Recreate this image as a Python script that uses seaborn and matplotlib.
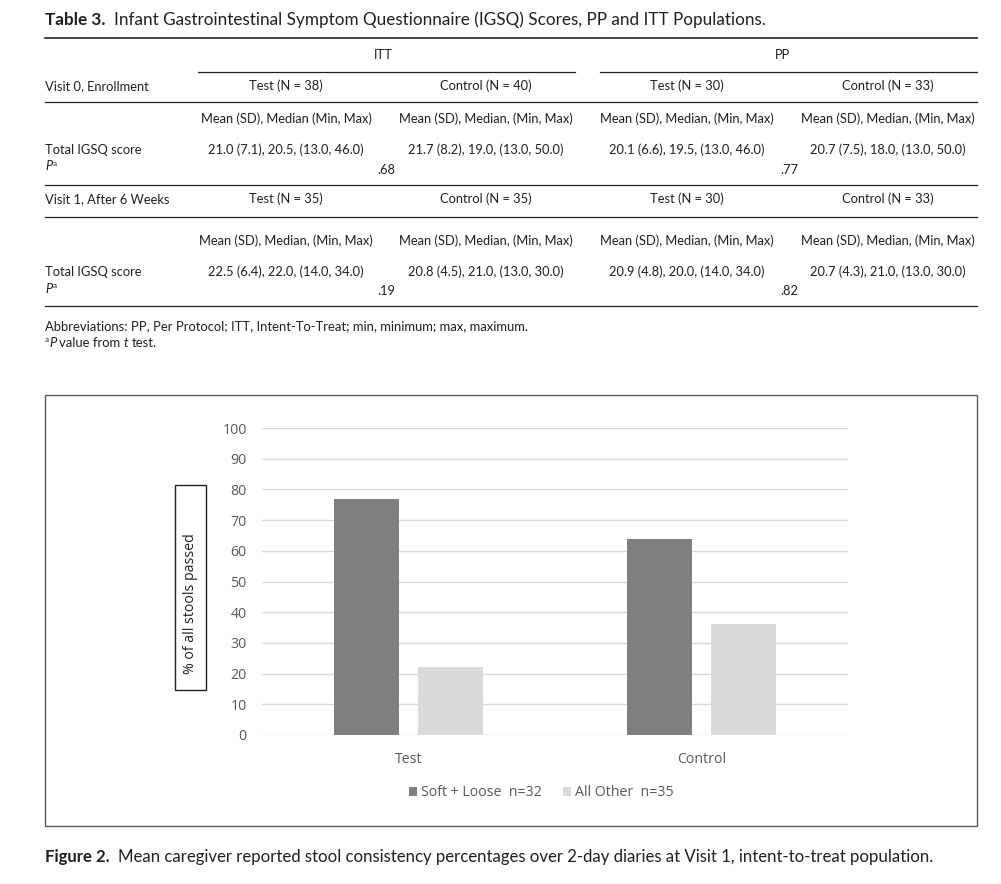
import matplotlib
matplotlib.use('Agg')
import matplotlib.pyplot as plt
import matplotlib.patches as mpatches
import matplotlib.lines as mlines
import seaborn as sns
import pandas as pd

# ---------------------------------------------------------------
# data
# ---------------------------------------------------------------
table_title = 'Infant Gastrointestinal Symptom Questionnaire (IGSQ) Scores, PP and ITT Populations.'
populations = ['ITT', 'PP']

visit0_label = 'Visit 0, Enrollment'
visit0_groups = ['Test (N = 38)', 'Control (N = 40)', 'Test (N = 30)', 'Control (N = 33)']
visit0_stats_hdr = ['Mean (SD), Median (Min, Max)', 'Mean (SD), Median, (Min, Max)',
                    'Mean (SD), Median, (Min, Max)', 'Mean (SD), Median, (Min, Max)']
visit0_scores = ['21.0 (7.1), 20.5, (13.0, 46.0)', '21.7 (8.2), 19.0, (13.0, 50.0)',
                 '20.1 (6.6), 19.5, (13.0, 46.0)', '20.7 (7.5), 18.0, (13.0, 50.0)']
visit0_p = ['.68', '.77']

visit1_label = 'Visit 1, After 6 Weeks'
visit1_groups = ['Test (N = 35)', 'Control (N = 35)', 'Test (N = 30)', 'Control (N = 33)']
visit1_stats_hdr = ['Mean (SD), Median, (Min, Max)'] * 4
visit1_scores = ['22.5 (6.4), 22.0, (14.0, 34.0)', '20.8 (4.5), 21.0, (13.0, 30.0)',
                 '20.9 (4.8), 20.0, (14.0, 34.0)', '20.7 (4.3), 21.0, (13.0, 30.0)']
visit1_p = ['.19', '.82']

abbrev_note = 'Abbreviations: PP, Per Protocol; ITT, Intent-To-Treat; min, minimum; max, maximum.'

groups = ['Test', 'Control']
series_names = ['Soft + Loose  n=32', 'All Other  n=35']
soft_loose = [77, 64]
all_other = [22, 36]
y_ticks = [0, 10, 20, 30, 40, 50, 60, 70, 80, 90, 100]
y_label = '% of all stools passed'
fig_caption = 'Mean caregiver reported stool consistency percentages over 2-day diaries at Visit 1, intent-to-treat population.'

# ---------------------------------------------------------------
# figure + helpers (pixel coords, y from top)
# ---------------------------------------------------------------
W, H = 1001, 884
fig = plt.figure(figsize=(W / 100, H / 100), dpi=100)
renderer = fig.canvas.get_renderer()

TFONT = 'Lato'
CFONT = 'Open Sans'
INK = '#231f20'
TSIZE = 9.3
CSIZE = 10.2


def fx(x):
    return x / W


def fy(y):
    return 1 - y / H


def txt(x, y, s, ha='left', size=TSIZE, **kw):
    kw.setdefault('family', TFONT)
    kw.setdefault('color', INK)
    return fig.text(fx(x), fy(y), s, ha=ha, va='center', fontsize=size, **kw)


def runs(x, y, parts, size=TSIZE):
    # draw consecutive text pieces with different styles
    for s, kw in parts:
        kw = dict(kw)
        dy = kw.pop('dy', 0)
        gap = kw.pop('gap', 0)
        sz = kw.pop('size', size)
        t = txt(x, y + dy, s, size=sz, **kw)
        x += t.get_window_extent(renderer).width + gap
    return x


def hline(x0, x1, y, lw=0.9, color='#231f20'):
    fig.add_artist(mlines.Line2D([fx(x0), fx(x1)], [fy(y), fy(y)], lw=lw, color=color))


# ---------------------------------------------------------------
# table
# ---------------------------------------------------------------
runs(45, 20, [('Table 3.', dict(weight='bold', gap=8)), (table_title, {})], size=12.3)

col_x = [286, 486, 687, 888]
left_x = 45
p_x = [377, 780]

hline(45, 977, 38, lw=1.2)
txt(383, 55, populations[0], ha='center')
txt(783, 55, populations[1], ha='center')
hline(198, 575, 72)
hline(600, 977, 72)

txt(left_x, 86, visit0_label)
for cx, s in zip(col_x, visit0_groups):
    txt(cx, 86, s, ha='center')
hline(45, 977, 102)
for cx, s in zip(col_x, visit0_stats_hdr):
    txt(cx, 119, s, ha='center')
txt(left_x, 150, 'Total IGSQ score')
for cx, s in zip(col_x, visit0_scores):
    txt(cx, 150, s, ha='center')
runs(left_x, 166, [('P', dict(style='italic')), ('a', dict(size=5.8, dy=-3))])
for px_, s in zip(p_x, visit0_p):
    txt(px_, 170, s)
hline(45, 977, 185)

txt(left_x, 199, visit1_label)
for cx, s in zip(col_x, visit1_groups):
    txt(cx, 199, s, ha='center')
hline(45, 977, 217)
for cx, s in zip(col_x, visit1_stats_hdr):
    txt(cx, 241, s, ha='center')
txt(left_x, 272, 'Total IGSQ score')
for cx, s in zip(col_x, visit1_scores):
    txt(cx, 272, s, ha='center')
runs(left_x, 289, [('P', dict(style='italic')), ('a', dict(size=5.8, dy=-3))])
for px_, s in zip(p_x, visit1_p):
    txt(px_, 291, s)
hline(45, 977, 306)

txt(left_x, 326, abbrev_note, size=9.4)
runs(left_x, 343, [('a', dict(size=5.8, dy=-3)), ('P', dict(style='italic', gap=3)),
                   ('value from ', {}), ('t', dict(style='italic', gap=3)), ('test.', {})],
     size=9.4)

# ---------------------------------------------------------------
# chart
# ---------------------------------------------------------------
fig.add_artist(mpatches.Rectangle((fx(45), fy(826)), fx(977) - fx(45), fy(395) - fy(826),
                                  fill=False, edgecolor='#5a5a5a', lw=1.0))

ax = fig.add_axes([fx(262), fy(735), fx(848) - fx(262), fy(428) - fy(735)])
df = pd.DataFrame({
    'group': groups * 2,
    'series': [series_names[0]] * len(groups) + [series_names[1]] * len(groups),
    'value': soft_loose + all_other,
})
sns.barplot(data=df, x='group', y='value', hue='series', order=groups,
            palette=['#7f7f7f', '#d9d9d9'], saturation=1, width=0.572, gap=0.22,
            ax=ax, zorder=3)

ax.set_ylim(0, 100)
ax.set_xlim(-0.5, 1.5)
ax.set_yticks(y_ticks)
ax.set_yticklabels([str(v) for v in y_ticks], family=CFONT, fontsize=CSIZE, color='#595959')
ax.set_xticks(range(len(groups)))
ax.set_xticklabels(groups, family=CFONT, fontsize=CSIZE, color='#595959')
ax.tick_params(axis='both', length=0)
ax.tick_params(axis='y', pad=11)
ax.tick_params(axis='x', pad=12)
ax.grid(axis='y', color='#d9d9d9', lw=1.0, zorder=0)
ax.set_axisbelow(True)
for sp in ax.spines.values():
    sp.set_visible(False)
ax.set_xlabel('')
ax.set_ylabel('')
ax.patch.set_alpha(0)

handles, labels = ax.get_legend_handles_labels()
ax.get_legend().remove()
fig.legend(handles, labels, loc='center', bbox_to_anchor=(fx(541), fy(793)), ncol=2,
           frameon=False, handlelength=0.6, handleheight=0.6, handletextpad=0.25,
           columnspacing=1.5, prop={'family': CFONT, 'size': CSIZE}, labelcolor='#595959')

# boxed y label
fig.add_artist(mpatches.Rectangle((fx(175), fy(690)), fx(206) - fx(175), fy(485) - fy(690),
                                  fill=False, edgecolor='#231f20', lw=1.0))
fig.text(fx(191), fy(604), y_label, rotation=90, ha='center', va='center',
         family=CFONT, fontsize=CSIZE, color='#231f20')

# caption
runs(45, 857, [('Figure 2.', dict(weight='bold', gap=8)), (fig_caption, {})], size=12.1)

fig.savefig('out.png', dpi=100)
